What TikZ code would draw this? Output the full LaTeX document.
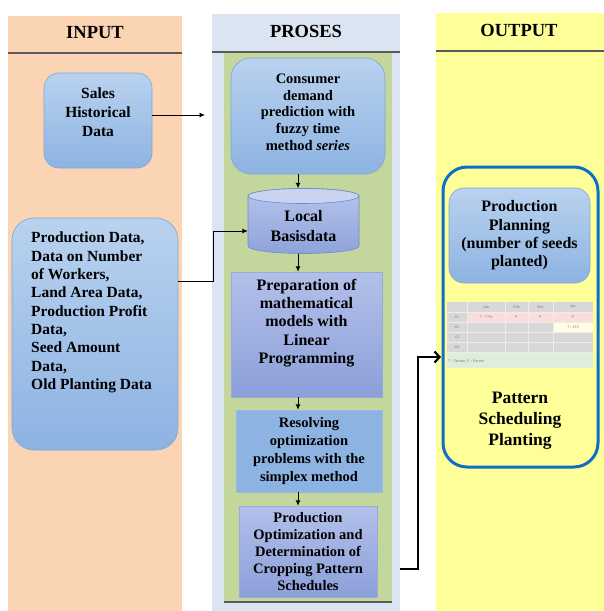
\documentclass[tikz,border=0pt]{standalone}
\usepackage{fontspec}
\setmainfont{Liberation Serif}
\newfontfamily\tabfont{Liberation Sans}
\usetikzlibrary{arrows.meta}
\definecolor{peach}{HTML}{FBD4B4}
\definecolor{lblue}{HTML}{DBE5F1}
\definecolor{lgreen}{HTML}{C3D69B}
\definecolor{lyellow}{HTML}{FFFF99}
\definecolor{btop}{HTML}{B9D2EF}
\definecolor{bbot}{HTML}{8DB3E2}
\definecolor{bborder}{HTML}{7EA6D8}
\definecolor{ptop}{HTML}{B2C0E9}
\definecolor{pbot}{HTML}{8C9FD9}
\definecolor{ctop}{HTML}{B7C5EB}
\definecolor{cbot}{HTML}{8FA3DB}
\definecolor{clid}{HTML}{C9D4F0}
\definecolor{cborder}{HTML}{7189CC}
\definecolor{outblue}{HTML}{0F6FC6}
\definecolor{hline}{HTML}{5A5A5A}
\definecolor{tgray}{HTML}{D8D8D8}
\definecolor{tgrid}{HTML}{ECECEC}
\definecolor{tpink}{HTML}{F9DEDC}
\definecolor{tcream}{HTML}{FFFDE4}
\definecolor{tgreen}{HTML}{DDEFDA}
\definecolor{ttext}{HTML}{7F7F7F}
\begin{document}
\begin{tikzpicture}[x=1pt,y=1pt,
  rbox/.style={draw=bborder, line width=0.6pt, rounded corners=15pt, top color=btop, bottom color=bbot},
  pbox/.style={top color=ptop, bottom color=pbot, draw=pbot!90!white, line width=0.4pt},
  txt/.style={align=center, text=black, inner sep=0pt},
  hdr/.style={font=\fontsize{18.5}{20}\selectfont\bfseries, inner sep=0pt},
  arr/.style={-{Latex[length=5.5pt,width=5pt]}, line width=0.9pt},
  bigarr/.style={-{Straight Barb[length=5pt,width=11pt]}, line width=2.2pt},
  ttx/.style={font=\tabfont\fontsize{3.8}{4.5}\selectfont, text=ttext, inner sep=0pt},
]
\useasboundingbox (0,0) rectangle (604,-611);
\fill[white] (0,0) rectangle (604,-611);
% columns
\fill[peach] (8,-16) rectangle (182,-611);
\fill[lblue] (212,-14) rectangle (400,-611);
\fill[lgreen] (224,-53) rectangle (392,-602);
\fill[lyellow] (436,-13) rectangle (604,-611);
\draw[hline, line width=1.6pt] (8,-53) -- (182,-53);
\draw[hline, line width=1.6pt] (212,-52) -- (400,-52);
\draw[hline, line width=1.6pt] (436,-51) -- (604,-51);
\draw[hline, line width=1.6pt] (224,-602) -- (392,-602);
% headers
\node[hdr] (hin) at (95,-33) {INPUT};
\node[hdr] (hpr) at (306,-31) {PROSES};
\node[hdr] (hout) at (519,-30) {OUTPUT};

% input boxes
\node[rbox, minimum width=108pt, minimum height=95pt] (sales) at (98,-120.5) {};
\node[txt, font=\fontsize{15.5}{18.7}\selectfont\bfseries] (salest) at (98,-112) {Sales\\Historical\\Data};
\node[rbox, rounded corners=22pt, minimum width=166pt, minimum height=232pt] (bigin) at (95,-334) {};
\node[txt, align=left, anchor=north west, font=\fontsize{15.5}{18.3}\selectfont\bfseries] (bigt) at (31,-232)
 {Production Data,\\Data on Number\\of Workers,\\Land Area Data,\\Production Profit\\Data,\\Seed Amount\\Data,\\Old Planting Data};

% process boxes
\node[rbox, rounded corners=20pt, minimum width=154pt, minimum height=116pt] (cons) at (308,-116) {};
\node[txt, font=\fontsize{14.5}{16.7}\selectfont\bfseries] (const) at (308,-112)
 {Consumer\\demand\\prediction with\\fuzzy time\\method \textit{series}};

% cylinder
\node[minimum width=111pt, minimum height=65pt, inner sep=0pt] (db) at (303.5,-221) {};
\path[top color=ctop, bottom color=cbot, draw=cborder, line width=0.6pt]
  (248,-196) -- (248,-246) arc[start angle=180, end angle=360, x radius=55.5, y radius=7.5]
  -- (359,-196) arc[start angle=0, end angle=180, x radius=55.5, y radius=7.5] -- cycle;
\filldraw[fill=clid, draw=cborder, line width=0.6pt] (303.5,-196) ellipse[x radius=55.5, y radius=7.5];
\node[txt, font=\fontsize{16}{20}\selectfont\bfseries] (dbt) at (303.5,-226) {Local\\Basisdata};

\node[pbox, minimum width=151pt, minimum height=125pt] (prep) at (306.5,-334.5) {};
\node[txt, font=\fontsize{16}{18.3}\selectfont\bfseries] (prept) at (306.5,-323)
 {Preparation of\\mathematical\\models with\\Linear\\Programming};
\node[fill=bbot, draw=bbot!90!white, line width=0.4pt, minimum width=146pt, minimum height=82pt, txt,
  font=\fontsize{14.5}{18}\selectfont\bfseries] (res) at (309,-451)
 {Resolving\\optimization\\problems with the\\simplex method};
\node[pbox, minimum width=138pt, minimum height=91pt, txt,
  font=\fontsize{14.5}{17}\selectfont\bfseries] (popt) at (308,-551.5)
 {Production\\Optimization and\\Determination of\\Cropping Pattern\\Schedules};

% output
\node[draw=outblue, line width=3pt, rounded corners=24pt, fill=lyellow, minimum width=155pt, minimum height=300pt] (outbox) at (520.5,-317) {};
\node[rbox, minimum width=141pt, minimum height=95pt, txt, font=\fontsize{16}{18.3}\selectfont\bfseries] (plan) at (519.5,-235.5)
 {Production\\Planning\\(number of seeds\\planted)};
\node[txt, font=\fontsize{17.5}{21}\selectfont\bfseries] (patt) at (520,-421) {Pattern\\Scheduling\\Planting};

% small table
\fill[tgray] (447,-302) rectangle (593,-352);
\fill[tpink] (467,-312) rectangle (593,-322);
\fill[tcream] (553,-322) rectangle (593,-332);
\fill[tgreen] (447,-352) rectangle (593,-368);
\foreach \yy in {-312,-322,-332,-342,-352} \draw[tgrid, line width=0.5pt] (447,\yy) -- (593,\yy);
\foreach \xx in {467,505,528,553} \draw[tgrid, line width=0.5pt] (\xx,-302) -- (\xx,-352);
\node[ttx] (tj) at (486,-307) {Jan};
\node[ttx] (tf) at (516.5,-307) {Feb};
\node[ttx] (tm) at (540.5,-307) {Mar};
\node[ttx] (ta) at (573,-307) {Apr};
\node[ttx] (r1) at (457,-317) {X1};
\node[ttx] (r2) at (457,-327) {X2};
\node[ttx] (r3) at (457,-337) {X3};
\node[ttx] (r4) at (457,-347) {X4};
\node[ttx] (c11) at (486,-317) {T : 77\%};
\node[ttx] (c12) at (516.5,-317) {P};
\node[ttx] (c13) at (540.5,-317) {P};
\node[ttx] (c14) at (573,-317) {P};
\node[ttx] (c24) at (573,-327) {T : 472};
\node[ttx, anchor=west] (leg) at (448,-361) {T : Tanam, P : Panen};

% connectors
\coordinate (salesend) at (205,-115);
\coordinate (ax) at (298,0);
\coordinate (outin) at (441,-357);
\draw[arr] (sales.east |- salesend) -- (salesend);
\draw[arr] ([yshift=53pt]bigin.east) -- ++(35,0) |- ([yshift=-10pt]db.west);
\draw[arr] (cons.south -| ax) -- (db.north -| ax);
\draw[arr] (db.south -| ax) -- (prep.north -| ax);
\draw[arr] (prep.south -| ax) -- (res.north -| ax);
\draw[arr] (res.south -| ax) -- (popt.north -| ax);
\draw[bigarr] ([shift={(23pt,-17.5pt)}]popt.east) -| ([xshift=-23pt]outin) -- (outin);
\end{tikzpicture}
\end{document}
